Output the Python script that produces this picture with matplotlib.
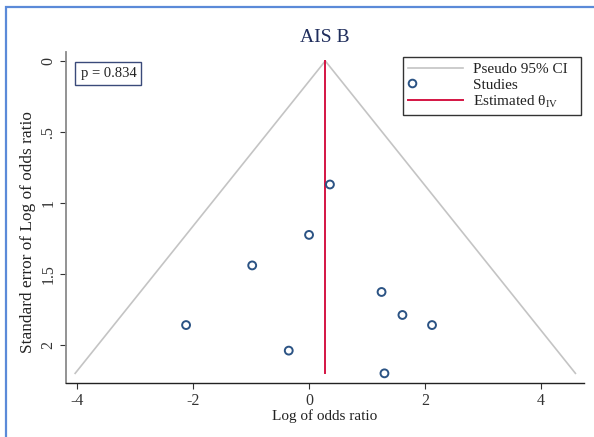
import matplotlib
matplotlib.use('Agg')
import matplotlib.pyplot as plt
from matplotlib.patches import Rectangle
from matplotlib.lines import Line2D
from matplotlib.legend_handler import HandlerLine2DCompound

# study estimates
log_or = [0.36, 0.00, -0.98, -2.12, 1.25, 1.61, 2.12, -0.35, 1.30]
se_log_or = [0.87, 1.225, 1.44, 1.86, 1.627, 1.789, 1.86, 2.04, 2.20]
theta_iv = 0.28
se_max = 2.20
p_value = "p = 0.834"
x_ticks = [-4, -2, 0, 2, 4]
y_ticks = [0, 0.5, 1, 1.5, 2]
y_tick_labels = ["0", ".5", "1", "1.5", "2"]

plt.rcParams['font.family'] = ['Liberation Serif', 'DejaVu Serif']
plt.rcParams['mathtext.fontset'] = 'custom'
plt.rcParams['mathtext.rm'] = 'Liberation Serif'


class LeftMarkerHandler(HandlerLine2DCompound):
    """Put the legend marker at the left end of the handle (Stata style)."""
    def get_xdata(self, legend, xdescent, ydescent, width, height, fontsize):
        xdata, _ = super().get_xdata(legend, xdescent, ydescent, width, height, fontsize)
        return xdata, [-xdescent + 3]


fig = plt.figure(figsize=(5.94, 4.37), dpi=100)
fig.patch.set_facecolor('white')

# outer blue frame (cut off at right/bottom like the source)
fig.patches.append(Rectangle((6 / 594, -0.05), 1.2, 1 - 7 / 437 + 0.05,
                             transform=fig.transFigure, fill=False,
                             edgecolor='#5b8ad8', linewidth=1.6))

ax = fig.add_axes([66 / 594, 1 - 383 / 437, (584 - 66) / 594, (383 - 52) / 437])

# pseudo 95% CI triangle
ax.plot([theta_iv - 1.96 * se_max, theta_iv, theta_iv + 1.96 * se_max],
        [se_max, 0, se_max], color='#c4c4c4', linewidth=1.2, zorder=1)
ax.plot([theta_iv, theta_iv], [0, se_max], color='#d41443', linewidth=1.4, zorder=2)
ax.scatter(log_or, se_log_or, s=32, facecolors='none', edgecolors='#2b5384',
           linewidths=1.4, zorder=3)

ax.set_xlim(-4.19, 4.74)
ax.set_ylim(2.268, -0.063)
ax.set_xticks(x_ticks)
ax.set_xticklabels([str(t) for t in x_ticks])
ax.set_yticks(y_ticks)
ax.set_yticklabels(y_tick_labels, rotation=90, va='center')

for s in ['top', 'right']:
    ax.spines[s].set_visible(False)
ax.spines['left'].set_color('#8a8a8a')
ax.spines['left'].set_linewidth(1.3)
ax.spines['bottom'].set_color('#222222')
ax.spines['bottom'].set_linewidth(1.0)
ax.tick_params(axis='both', labelsize=11.5, colors='#333333', length=4, width=0.8, pad=3)

ax.set_xlabel("Log of odds ratio", fontsize=11, color='#222222', labelpad=0)
ax.set_ylabel("Standard error of Log of odds ratio", fontsize=12.4, color='#222222')
ax.yaxis.set_label_coords(-0.058, 0.456)
fig.text(325 / 594, 1 - 38 / 437, "AIS B", ha='center', va='center',
         fontsize=14, color='#1f2d5c')

# p-value box
ax.text(0.028, 0.955, p_value, transform=ax.transAxes, ha='left', va='top',
        fontsize=10.5, color='#222222',
        bbox=dict(boxstyle='square,pad=0.35', facecolor='white', edgecolor='#3a4a7a', linewidth=1.0))

handles = [
    Line2D([], [], color='#c4c4c4', linewidth=1.2),
    Line2D([], [], linestyle='none', marker='o', markerfacecolor='none',
           markeredgecolor='#2b5384', markeredgewidth=1.4, markersize=5.5),
    Line2D([], [], color='#d41443', linewidth=1.4),
]
labels = ["Pseudo 95% CI  ", "Studies", "Estimated θ$_{\\mathrm{IV}}$"]
leg = ax.legend(handles, labels, loc='upper right', bbox_to_anchor=(0.9942, 0.985),
                fontsize=11, frameon=True, fancybox=False, framealpha=1,
                edgecolor='#333333', handlelength=3.6, handletextpad=0.65,
                labelspacing=0.12, borderpad=0.35, borderaxespad=0,
                handler_map={handles[1]: LeftMarkerHandler(numpoints=1)})
leg.get_frame().set_linewidth(1.0)
for t in leg.get_texts():
    t.set_color('#222222')

fig.savefig('out.png', dpi=100, facecolor='white')
